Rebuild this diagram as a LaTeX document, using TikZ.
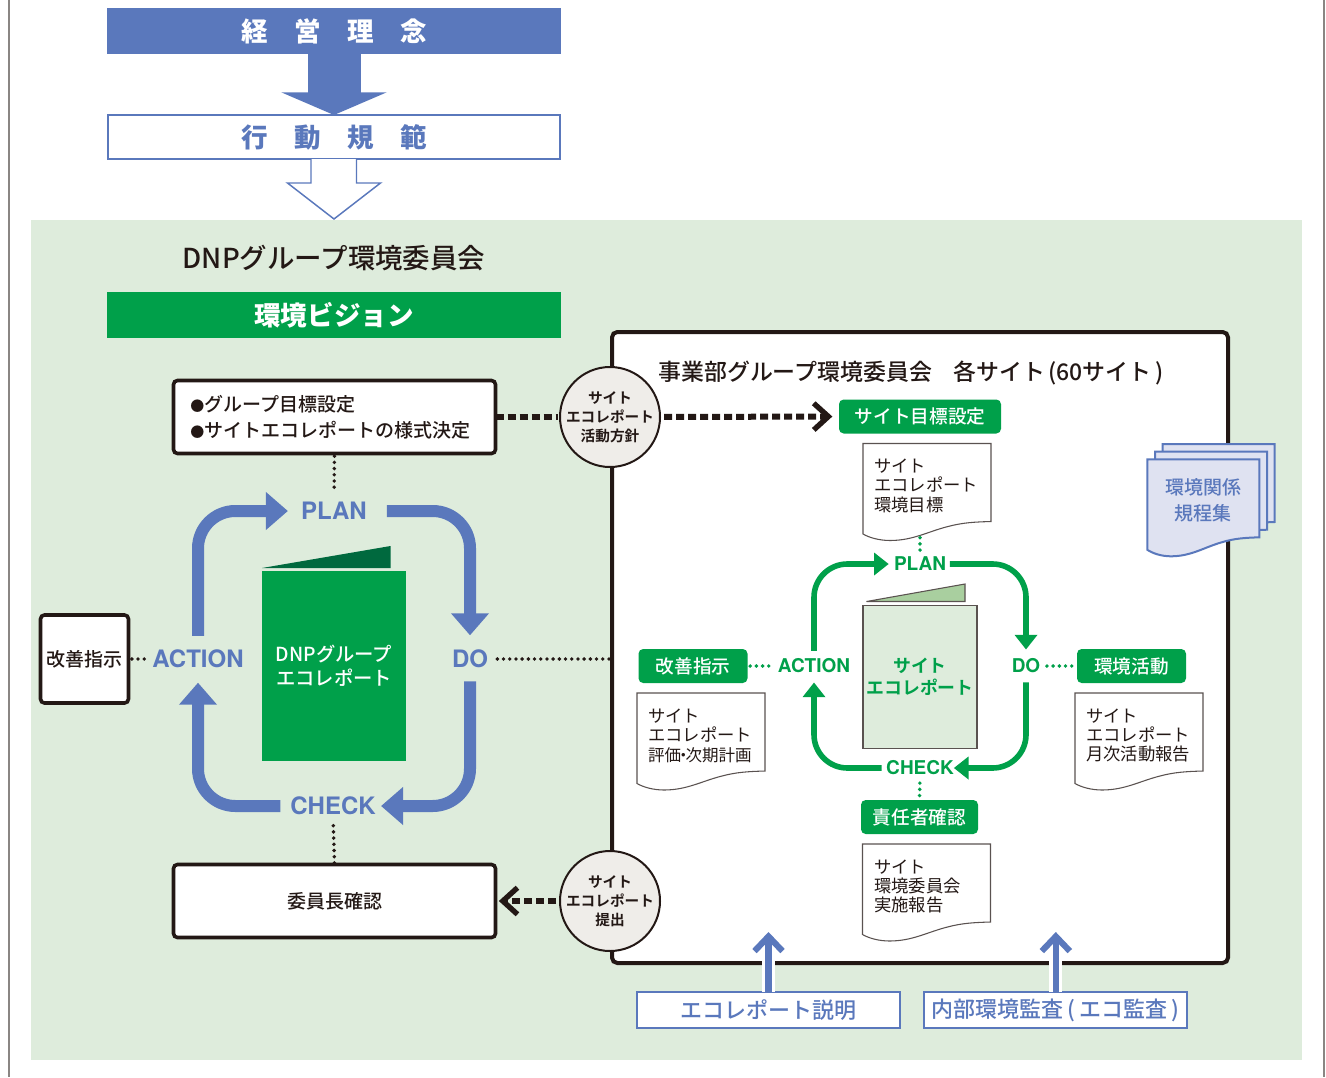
\documentclass[tikz,border=0pt]{standalone}
\usepackage{fontspec}
\setmainfont{Noto Sans CJK JP Medium}[BoldFont=Noto Sans CJK JP Bold]
\newfontfamily\lightjp{Noto Sans CJK JP}
\newfontfamily\heavyjp{Noto Sans CJK JP Black}
\setsansfont{TeX Gyre Heros}
\usetikzlibrary{arrows.meta,calc}

\definecolor{dnpblue}{HTML}{5A78BC}
\definecolor{dnpgreen}{HTML}{00A04A}
\definecolor{dnpdark}{HTML}{00693E}
\definecolor{palegreen}{HTML}{DEECDC}
\definecolor{flapgreen}{HTML}{A9CF9F}
\definecolor{paleblue}{HTML}{DFE2F1}
\definecolor{inkblack}{HTML}{231815}
\definecolor{stampgray}{HTML}{EFEDE9}
\definecolor{edgegray}{HTML}{8A8683}

\tikzset{
  bar/.style={inner sep=0pt,outer sep=0pt,minimum width=340.5pt,minimum height=34.5pt},
  blackbox/.style={draw=inkblack,fill=white,line width=2.7pt,rounded corners=3pt,inner sep=0pt,outer sep=0pt,text=inkblack,align=center},
  pill/.style={fill=dnpgreen,rounded corners=3.5pt,text=white,inner sep=0pt,outer sep=0pt,minimum height=25.5pt,font=\fontsize{14}{16}\selectfont},
  stamp/.style={draw=inkblack,fill=stampgray,circle,line width=1.5pt,minimum size=75pt,inner sep=-2pt,outer sep=0pt,text=inkblack,align=center,font=\fontsize{11}{14.2}\selectfont\bfseries},
  bluelabel/.style={text=dnpblue,inner sep=0pt,outer sep=0pt,font=\fontsize{18}{20}\selectfont\bfseries\sffamily},
  greenlabel/.style={text=dnpgreen,inner sep=0pt,outer sep=0pt,font=\fontsize{14.25}{16}\selectfont\bfseries\sffamily},
  bluepdca/.style={draw=dnpblue,line width=9pt,rounded corners=28pt,-{Triangle[length=16.5pt,width=27.5pt]}},
  greenpdca/.style={draw=dnpgreen,line width=4.2pt,rounded corners=25pt,-{Triangle[length=11pt,width=16.5pt]}},
  fatdash/.style={draw=inkblack,line width=4.5pt,dash pattern=on 6pt off 3pt},
  chevron/.style={-{Straight Barb[length=11pt,width=20pt,line width=4pt]}},
  blackdots/.style={draw=inkblack,line width=2.9pt,line cap=round,dash pattern=on 0pt off 4.65pt},
  greendots/.style={draw=dnpgreen,line width=2.9pt,line cap=round,dash pattern=on 0pt off 4.65pt},
  doctext/.style={anchor=west,inner sep=0pt,outer sep=0pt,align=left,text=inkblack,font=\lightjp\fontsize{13}{14.6}\selectfont},
  upbox/.style={draw=dnpblue,fill=white,line width=1.5pt,inner sep=0pt,outer sep=0pt,minimum height=27pt,minimum width=197.25pt,text=dnpblue,font=\fontsize{16.5}{18}\selectfont},
  uparrow/.style={draw=dnpblue,line width=4.6pt,-{Straight Barb[length=11pt,width=21pt]},preaction={draw=white,line width=9.5pt}},
  pics/wavedoc/.style={code={
    \path[pic actions] (0,0) -- (128,0) -- (128,78)
      .. controls (112,78.5) and (100,79) .. (85,83)
      .. controls (65,88) and (50,97) .. (27,97)
      .. controls (16,97) and (6,94) .. (0,90.5) -- cycle;
  }},
  plaindoc/.style={draw=inkblack!75,fill=white,line width=.8pt},
  bluedoc/.style={draw=dnpblue,fill=paleblue,line width=1.5pt}
}

\begin{document}
\begin{tikzpicture}[x=.75pt,y=-.75pt]
\useasboundingbox (0,0) rectangle (1326,1077);
\fill[palegreen] (31,220) rectangle (1302,1060);
\path[draw=edgegray,line width=1.5pt] (8.5,0) -- (8.5,1077);
\path[draw=edgegray,line width=1.5pt] (1324,0) -- (1324,1077);

\node[bar,fill=dnpblue,text=white,font=\heavyjp\fontsize{19.9}{22}\selectfont] (rinen) at (334,31) {経　営　理　念};
\node[bar,draw=dnpblue,fill=white,line width=1.5pt,text=dnpblue,minimum height=33pt,minimum width=339pt,font=\heavyjp\fontsize{19.9}{22}\selectfont] (kihan) at (334,137) {行　動　規　範};
\path[draw=dnpblue,line width=39.75pt,-{Triangle[length=17pt,width=78.5pt]}] (rinen.south) -- (kihan.north);
\path[draw=dnpblue,fill=white,line width=1.1pt] (311,159) -- (311,183) -- (287.5,183) -- (334,219) -- (380.5,183) -- (356.5,183) -- (356.5,159);

\node[anchor=center,inner sep=0pt,text=inkblack,font=\fontsize{20.6}{22}\selectfont] (iinkai) at (334,258) {DNPグループ環境委員会};
\node[bar,fill=dnpgreen,text=white,font=\heavyjp\fontsize{19.9}{22}\selectfont] (vision) at (334,315) {環境ビジョン};

\node[draw=inkblack,fill=white,line width=3pt,rounded corners=4pt,minimum width=462pt,minimum height=473.25pt,inner sep=0pt,outer sep=0pt] (sitebox) at (920,647.5) {};
\node[anchor=west,inner sep=0pt,text=inkblack,font=\fontsize{17.2}{20}\selectfont] (sitetitle) at (658,372.5) {事業部グループ環境委員会\hspace{16.2pt}各サイト\hspace{2pt}(60サイト\hspace{3pt})};

\node[blackbox,minimum width=241.5pt,minimum height=54.75pt] (goalbox) at (334.5,417) {};
\node[anchor=west,inner sep=0pt,align=left,text=inkblack,font=\fontsize{14.25}{19.5}\selectfont] (goaltext) at (190,417) {{\fontsize{10.5}{19.5}\selectfont ●}グループ目標設定\\{\fontsize{10.5}{19.5}\selectfont ●}サイトエコレポートの様式決定};
\node[blackbox,minimum width=241.5pt,minimum height=54.75pt,font=\fontsize{14.25}{16}\selectfont] (chairbox) at (334.5,901) {委員長確認};
\node[blackbox,minimum width=66pt,minimum height=66pt,font=\fontsize{14.25}{16}\selectfont] (kaizen) at (84.5,659) {改善指示};

\node[bluelabel] (plan) at (334,511) {PLAN};
\node[bluelabel] (do) at (470,659) {DO};
\node[bluelabel] (check) at (333,806) {CHECK};
\node[bluelabel] (action) at (198,659) {ACTION};

\path[bluepdca,shorten <=10.5pt,shorten >=10pt] (action.north) |- (plan.west);
\path[bluepdca,shorten <=15pt,shorten >=11pt] (plan.east) -| (do.north);
\path[bluepdca,shorten <=10pt,shorten >=4pt] (do.south) |- (check.east);
\path[bluepdca,shorten <=7.5pt,shorten >=11pt] (check.west) -| (action.south);

\fill[dnpdark] (262,568) -- (390.5,546) -- (390.5,568) -- cycle;
\node[fill=dnpgreen,minimum width=108pt,minimum height=142.5pt,inner sep=0pt,outer sep=0pt] (greenbook) at (334,666) {};
\node[inner sep=0pt,text=white,align=center,font=\fontsize{14.5}{18}\selectfont] (greentext) at (334,666) {DNPグループ\\エコレポート};

\path[blackdots,shorten <=2pt,shorten >=9pt] (goalbox.south) -- (plan.north);
\path[blackdots,shorten <=8pt,shorten >=1pt] (check.south) -- (chairbox.north);
\path[blackdots,shorten <=2.5pt,shorten >=3pt] (kaizen.east) -- (action.west);
\path[blackdots,shorten <=7pt] (do.east) -- (sitebox.west |- do.east);

\node[stamp] (policy) at (610,417) {サイト\\エコレポート\\活動方針};
\node[stamp] (submit) at (610,901) {サイト\\エコレポート\\提出};

\node[pill,minimum width=121.5pt] (sitegoal) at (920,416.5) {サイト目標設定};
\node[pill,minimum width=81.75pt] (kaizenpill) at (693,666) {改善指示};
\node[pill,minimum width=81.75pt] (activity) at (1131.5,666) {環境活動};
\node[pill,minimum width=87.75pt] (confirm) at (919.5,817) {責任者確認};

\path[fatdash,shorten >=1.5pt] (goalbox.east) -- (policy.west);
\path[fatdash,chevron,shorten <=3pt,shorten >=5pt] (policy.east) -- (sitegoal.west);
\path[fatdash,chevron,shorten <=3pt,shorten >=2.5pt] (submit.west) -- (chairbox.east);

\pic[plaindoc] at (863,443.5) {wavedoc};
\pic[plaindoc] at (637,693) {wavedoc};
\pic[plaindoc] at (1075,693) {wavedoc};
\pic[plaindoc] at (862.5,844) {wavedoc};
\node[doctext] (docgoal) at (874,485.5) {サイト\\エコレポート\\環境目標};
\node[doctext] (docplan) at (648,735.5) {サイト\\エコレポート\\{\fontsize{12.4}{14.6}\selectfont 評価\hspace{-4.5pt}・\hspace{-4.5pt}次期計画}};
\node[doctext] (docmonth) at (1086,735.5) {サイト\\エコレポート\\月次活動報告};
\node[doctext] (docmeet) at (874,886.5) {サイト\\環境委員会\\実施報告};
\coordinate (docgoalend) at (920,535);

\pic[bluedoc,xscale=.875] at (1162.7,444) {wavedoc};
\pic[bluedoc,xscale=.875] at (1155,451.7) {wavedoc};
\pic[bluedoc,xscale=.875] at (1147.3,459.3) {wavedoc};
\node[inner sep=0pt,text=dnpblue,align=center,font=\fontsize{14.25}{19.5}\selectfont] (kitei) at (1203,500) {環境関係\\規程集};

\node[greenlabel] (plansite) at (920,564) {PLAN};
\node[greenlabel] (dosite) at (1026,666) {DO};
\node[greenlabel] (checksite) at (920,768) {CHECK};
\node[greenlabel] (actionsite) at (814,666) {ACTION};

\path[greenpdca,shorten <=6pt,shorten >=4pt] (actionsite.north) |- (plansite.west);
\path[greenpdca,shorten <=3pt,shorten >=7pt] (plansite.east) -| (dosite.north);
\path[greenpdca,shorten <=7pt,shorten >=0pt] (dosite.south) |- (checksite.east);
\path[greenpdca,shorten <=3.5pt,shorten >=7pt] (checksite.west) -| (actionsite.south);

\path[draw=inkblack!75,fill=flapgreen,line width=.8pt] (866.5,601.5) -- (965,584) -- (965,601.5) -- cycle;
\node[draw=inkblack!75,fill=palegreen,line width=.8pt,minimum width=85.5pt,minimum height=107.25pt,inner sep=0pt,outer sep=0pt] (sitebook) at (920,677) {};
\node[inner sep=0pt,text=dnpgreen,align=center,font=\fontsize{13.4}{16.5}\selectfont\bfseries] (sitetext) at (920,677) {サイト\\エコレポート};

\path[greendots,shorten <=2pt,shorten >=2pt] (docgoalend) -- (plansite.north);
\path[greendots,shorten <=2pt,shorten >=5pt] (kaizenpill.east) -- (actionsite.west);
\path[greendots,shorten <=5pt,shorten >=1pt] (dosite.east) -- (activity.west);
\path[greendots,shorten <=6pt,shorten >=1pt] (checksite.south) -- (confirm.north);

\node[upbox] (ecotalk) at (768.5,1010) {エコレポート説明};
\node[upbox] (audit) at (1055.8,1010) {内部環境監査\hspace{3pt}(\hspace{3pt}エコ監査\hspace{3pt})\hspace{2pt}};
\coordinate (uptalk) at (768.5,932);
\coordinate (upaudit) at (1055.8,932);
\path[uparrow] (ecotalk.north) -- (uptalk);
\path[uparrow] (audit.north) -- (upaudit);
\end{tikzpicture}
\end{document}
